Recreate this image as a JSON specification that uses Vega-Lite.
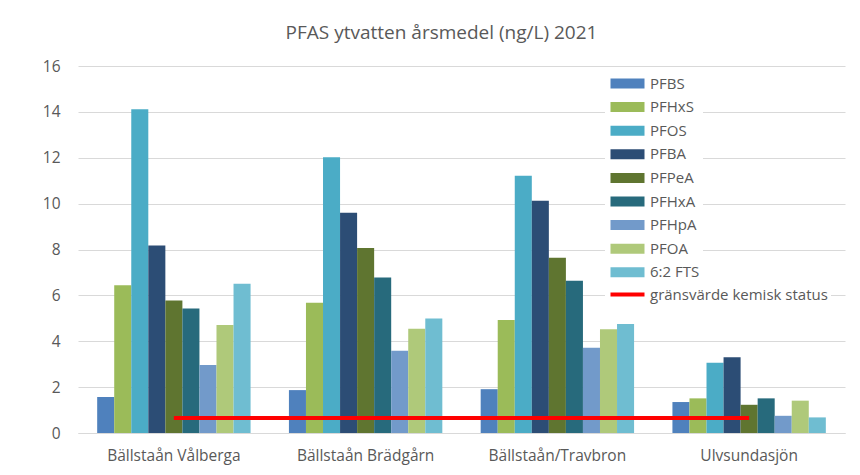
{
  "$schema": "https://vega.github.io/schema/vega-lite/v6.json",
  "width": 767,
  "height": 367,
  "autosize": {"type": "none"},
  "padding": {"left": 78, "top": 66, "right": 15, "bottom": 42},
  "background": "white",
  "title": {
    "text": "PFAS ytvatten årsmedel (ng/L) 2021",
    "fontSize": 19,
    "font": "Open Sans",
    "fontWeight": "normal",
    "color": "#595959",
    "offset": 16,
    "dx": -20
  },
  "config": {
    "view": {"stroke": null},
    "font": "Open Sans",
    "axis": {"labelFont": "Open Sans", "labelColor": "#595959", "labelFontSize": 15.5},
    "legend": {"labelFont": "Open Sans", "labelColor": "#595959", "labelFontSize": 15, "labelLimit": 300}
  },
  "datasets": {
    "bars": [
      {"site": "Bällstaån Vålberga", "substance": "PFBS", "value": 1.57},
      {"site": "Bällstaån Vålberga", "substance": "PFHxS", "value": 6.44},
      {"site": "Bällstaån Vålberga", "substance": "PFOS", "value": 14.11},
      {"site": "Bällstaån Vålberga", "substance": "PFBA", "value": 8.17},
      {"site": "Bällstaån Vålberga", "substance": "PFPeA", "value": 5.78},
      {"site": "Bällstaån Vålberga", "substance": "PFHxA", "value": 5.43},
      {"site": "Bällstaån Vålberga", "substance": "PFHpA", "value": 2.96},
      {"site": "Bällstaån Vålberga", "substance": "PFOA", "value": 4.71},
      {"site": "Bällstaån Vålberga", "substance": "6:2 FTS", "value": 6.51},
      {"site": "Bällstaån Brädgårn", "substance": "PFBS", "value": 1.87},
      {"site": "Bällstaån Brädgårn", "substance": "PFHxS", "value": 5.68},
      {"site": "Bällstaån Brädgårn", "substance": "PFOS", "value": 12.02},
      {"site": "Bällstaån Brädgårn", "substance": "PFBA", "value": 9.6},
      {"site": "Bällstaån Brädgårn", "substance": "PFPeA", "value": 8.06},
      {"site": "Bällstaån Brädgårn", "substance": "PFHxA", "value": 6.78},
      {"site": "Bällstaån Brädgårn", "substance": "PFHpA", "value": 3.59},
      {"site": "Bällstaån Brädgårn", "substance": "PFOA", "value": 4.55},
      {"site": "Bällstaån Brädgårn", "substance": "6:2 FTS", "value": 4.99},
      {"site": "Bällstaån/Travbron", "substance": "PFBS", "value": 1.91},
      {"site": "Bällstaån/Travbron", "substance": "PFHxS", "value": 4.93},
      {"site": "Bällstaån/Travbron", "substance": "PFOS", "value": 11.22},
      {"site": "Bällstaån/Travbron", "substance": "PFBA", "value": 10.12},
      {"site": "Bällstaån/Travbron", "substance": "PFPeA", "value": 7.64},
      {"site": "Bällstaån/Travbron", "substance": "PFHxA", "value": 6.64},
      {"site": "Bällstaån/Travbron", "substance": "PFHpA", "value": 3.72},
      {"site": "Bällstaån/Travbron", "substance": "PFOA", "value": 4.52},
      {"site": "Bällstaån/Travbron", "substance": "6:2 FTS", "value": 4.75},
      {"site": "Ulvsundasjön", "substance": "PFBS", "value": 1.35},
      {"site": "Ulvsundasjön", "substance": "PFHxS", "value": 1.51},
      {"site": "Ulvsundasjön", "substance": "PFOS", "value": 3.06},
      {"site": "Ulvsundasjön", "substance": "PFBA", "value": 3.3},
      {"site": "Ulvsundasjön", "substance": "PFPeA", "value": 1.23},
      {"site": "Ulvsundasjön", "substance": "PFHxA", "value": 1.51},
      {"site": "Ulvsundasjön", "substance": "PFHpA", "value": 0.75},
      {"site": "Ulvsundasjön", "substance": "PFOA", "value": 1.41},
      {"site": "Ulvsundasjön", "substance": "6:2 FTS", "value": 0.68}
    ],
    "limit": [
      {"site": "Bällstaån Vålberga", "serie": "gränsvärde kemisk status", "value": 0.65},
      {"site": "Ulvsundasjön", "serie": "gränsvärde kemisk status", "value": 0.65}
    ]
  },
  "layer": [
    {
      "data": {"name": "bars"},
      "mark": {"type": "bar"},
      "encoding": {
        "x": {
          "field": "site",
          "type": "nominal",
          "sort": ["Bällstaån Vålberga", "Bällstaån Brädgårn", "Bällstaån/Travbron", "Ulvsundasjön"],
          "scale": {"paddingInner": 0.2, "paddingOuter": 0.1},
          "axis": {
            "title": null,
            "labelAngle": 0,
            "ticks": false,
            "domainColor": "#D9D9D9",
            "domainWidth": 1,
            "labelPadding": 15,
            "grid": false
          }
        },
        "xOffset": {
          "field": "substance",
          "type": "nominal",
          "sort": ["PFBS", "PFHxS", "PFOS", "PFBA", "PFPeA", "PFHxA", "PFHpA", "PFOA", "6:2 FTS"],
          "scale": {"paddingInner": 0, "paddingOuter": 0}
        },
        "y": {
          "field": "value",
          "type": "quantitative",
          "scale": {"domain": [0, 16], "nice": false},
          "axis": {
            "title": null,
            "values": [0, 2, 4, 6, 8, 10, 12, 14, 16],
            "domain": false,
            "ticks": false,
            "labelPadding": 18,
            "gridColor": "#D9D9D9",
            "gridWidth": 1
          }
        },
        "color": {
          "field": "substance",
          "type": "nominal",
          "scale": {
            "domain": ["PFBS", "PFHxS", "PFOS", "PFBA", "PFPeA", "PFHxA", "PFHpA", "PFOA", "6:2 FTS"],
            "range": ["#4F81BD", "#9BBB59", "#4BACC6", "#2C4D75", "#5F7530", "#276A7C", "#729ACA", "#AFC97A", "#6FBDD1"]
          },
          "legend": {
            "title": null,
            "orient": "none",
            "legendX": 527,
            "legendY": 7,
            "symbolType": "M-1,-1H5.8V1H-1Z",
            "symbolSize": 100,
            "symbolStrokeWidth": 0,
            "labelOffset": 27,
            "rowPadding": 7.6,
            "fillColor": "white",
            "padding": 3
          }
        }
      }
    },
    {
      "data": {"name": "limit"},
      "mark": {"type": "line", "strokeWidth": 4},
      "encoding": {
        "x": {
          "field": "site",
          "type": "nominal",
          "sort": ["Bällstaån Vålberga", "Bällstaån Brädgårn", "Bällstaån/Travbron", "Ulvsundasjön"]
        },
        "y": {"field": "value", "type": "quantitative"},
        "stroke": {
          "field": "serie",
          "type": "nominal",
          "scale": {"domain": ["gränsvärde kemisk status"], "range": ["#FF0000"]},
          "legend": {
            "title": null,
            "orient": "none",
            "legendX": 527,
            "legendY": 218,
            "symbolType": "M-1,0H5.8",
            "symbolSize": 100,
            "symbolStrokeWidth": 4,
            "labelOffset": 27,
            "fillColor": "white",
            "padding": 3
          }
        }
      }
    }
  ]
}
